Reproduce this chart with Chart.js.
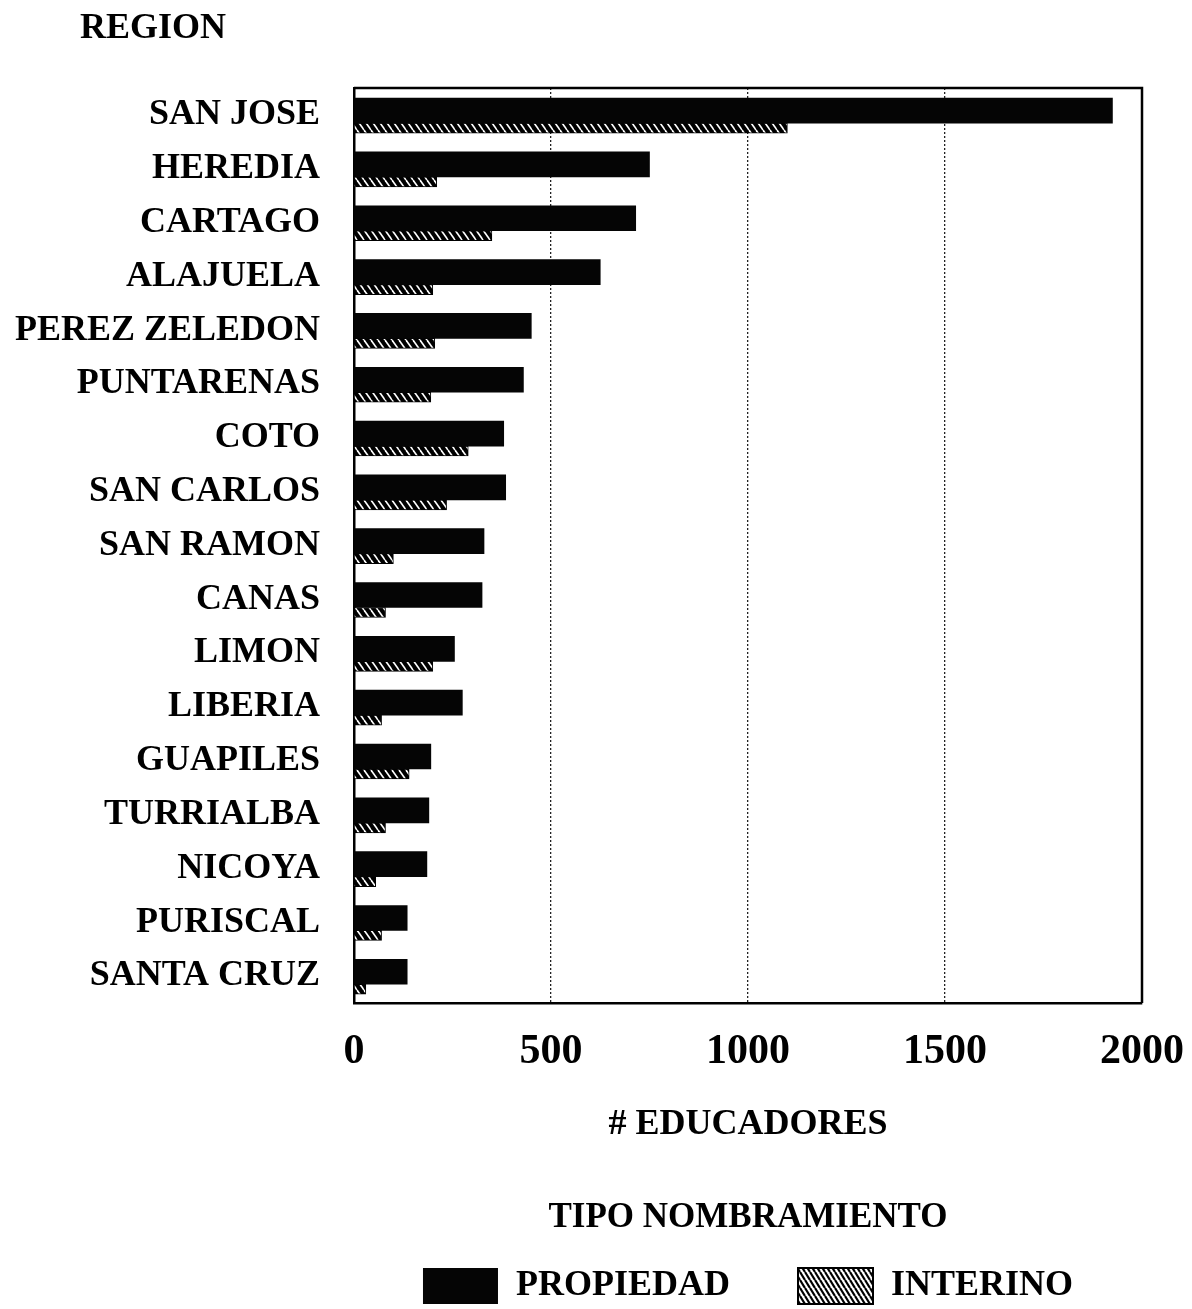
<!DOCTYPE html>
<html><head><meta charset="utf-8">
<script src="https://cdn.jsdelivr.net/npm/chart.js@4.4.0/dist/chart.umd.min.js"></script>
<style>html,body{margin:0;padding:0;background:#fff;overflow:hidden}#wrap{width:1192px;height:1309px}</style>
</head><body><div id="wrap"><canvas id="c" width="1192" height="1309"></canvas></div>
<script>
const categories = ['SAN JOSE','HEREDIA','CARTAGO','ALAJUELA','PEREZ ZELEDON','PUNTARENAS','COTO','SAN CARLOS','SAN RAMON','CANAS','LIMON','LIBERIA','GUAPILES','TURRIALBA','NICOYA','PURISCAL','SANTA CRUZ'];
const propiedad = [1925,750,715,625,450,430,380,385,330,325,255,275,195,190,185,135,135];
const interino  = [1100,210,350,200,205,195,290,235,100,80,200,70,140,80,55,70,30];
const xTicks = [0,500,1000,1500,2000];
const seriesNames = ['PROPIEDAD','INTERINO'];
const yTitle = 'REGION';
const xTitle = '# EDUCADORES';
const legendTitle = 'TIPO NOMBRAMIENTO';

const FONT = "'Liberation Serif', 'Times New Roman', serif";

function hatch(bg, fg, w, h, lw){
  const c = document.createElement('canvas'); c.width = w; c.height = h;
  const g = c.getContext('2d'); g.fillStyle = bg; g.fillRect(0,0,w,h);
  g.strokeStyle = fg; g.lineWidth = lw;
  for (const o of [-w,0,w]) { g.beginPath(); g.moveTo(o,0); g.lineTo(o+w,h); g.stroke(); }
  return g.createPattern(c,'repeat');
}
const barHatch = hatch('#000','#fff',7,10,1.6);
const legendHatch = hatch('#fff','#000',5,8,2.2);

// shift (in category units) of each series relative to the category centre
const SHIFT_P = -0.08, SHIFT_I = 0.245;
const N = categories.length;

const decorPlugin = {
  id: 'decor',
  afterDatasetsDraw(chart){
    const {ctx, chartArea: a} = chart;
    ctx.save();
    ctx.strokeStyle = '#000'; ctx.lineWidth = 2.5;
    ctx.beginPath();
    ctx.moveTo(a.left, a.top); ctx.lineTo(a.right, a.top); ctx.lineTo(a.right, a.bottom);
    ctx.stroke();
    ctx.restore();
  },
  afterDraw(chart){
    const ctx = chart.ctx;
    ctx.save();
    ctx.font = "bold 36px " + FONT;
    ctx.fillStyle = '#000';
    ctx.textBaseline = 'alphabetic';
    ctx.textAlign = 'left';
    ctx.fillText(yTitle, 80, 38);
    ctx.restore();
  }
};

new Chart(document.getElementById('c'), {
  type: 'bar',
  data: {
    labels: categories,
    datasets: [
      { label: seriesNames[0], data: propiedad.map((v,i)=>({x:v, y:i})), yAxisID: 'yP', xAxisID: 'x',
        backgroundColor: '#050505', borderColor: '#000', borderWidth: 0, barThickness: 25, grouped: false },
      { label: seriesNames[1], data: interino.map((v,i)=>({x:v, y:i})), yAxisID: 'yI', xAxisID: 'x',
        backgroundColor: barHatch, borderColor: '#000', borderWidth: 1, barThickness: 10, grouped: false }
    ]
  },
  options: {
    indexAxis: 'y',
    responsive: false,
    animation: false,
    devicePixelRatio: 1,
    layout: { padding: { top: 88, right: 50, left: 0, bottom: -5 } },
    scales: {
      x: {
        type: 'linear', position: 'bottom', min: 0, max: 2000,
        afterBuildTicks(s){ s.ticks = xTicks.map(v=>({value:v})); },
        afterFit(s){ s.paddingRight = 0; s.paddingLeft = 0; },
        ticks: { color: '#000', font: { family: FONT, size: 42, weight: 'bold', lineHeight: 1 }, padding: 28, maxRotation: 0,
                 callback: v => String(v) },
        grid: { drawTicks: false, lineWidth: 1.3, color: ctx => (ctx.tick && (ctx.tick.value === 0 || ctx.tick.value === 2000)) ? 'rgba(0,0,0,0)' : '#222' },
        border: { display: true, color: '#000', width: 2.5, dash: [2,2] },
        title: { display: true, text: xTitle, color: '#000', font: { family: FONT, size: 36, weight: 'bold', lineHeight: 1 }, padding: { top: 6, bottom: 57.5 } }
      },
      y: {
        type: 'category', position: 'left', offset: true,
        ticks: { color: '#000', font: { family: FONT, size: 36, weight: 'bold', lineHeight: 1 }, padding: 34, autoSkip: false },
        grid: { display: false, drawTicks: false },
        border: { display: true, color: '#000', width: 2.5 },
        afterFit(s){ s.width = 354; }
      },
      yP: { type: 'linear', display: false, reverse: true, offset: false, min: -0.5 - SHIFT_P, max: N - 0.5 - SHIFT_P },
      yI: { type: 'linear', display: false, reverse: true, offset: false, min: -0.5 - SHIFT_I, max: N - 0.5 - SHIFT_I }
    },
    plugins: {
      tooltip: { enabled: false },
      legend: {
        position: 'bottom', fullSize: false,
        title: { display: true, text: legendTitle, color: '#000', font: { family: FONT, size: 35, weight: 'bold', lineHeight: 1 }, padding: { top: 0, bottom: -35.5 } },
        labels: {
          color: '#000', font: { family: FONT, size: 36, weight: 'bold', lineHeight: 1 },
          boxWidth: 75, boxHeight: 36, padding: 68,
          generateLabels(chart){
            const items = Chart.defaults.plugins.legend.labels.generateLabels(chart);
            items[1].fillStyle = legendHatch; items[1].lineWidth = 2; items[1].strokeStyle = '#000';
            items[0].lineWidth = 0;
            return items;
          }
        }
      }
    }
  },
  plugins: [decorPlugin]
});
</script></body></html>
